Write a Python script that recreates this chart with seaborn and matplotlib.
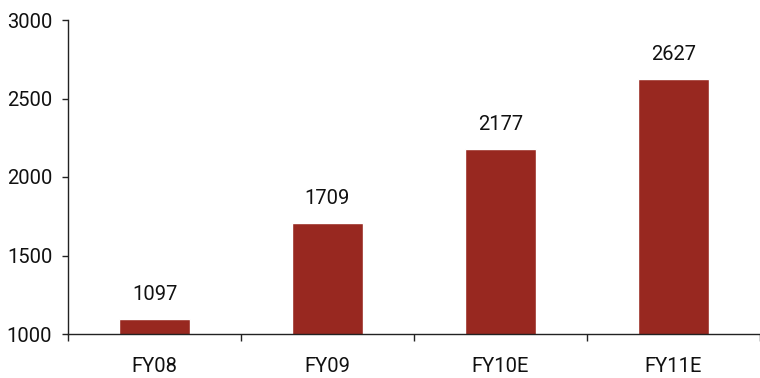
import matplotlib
matplotlib.use("Agg")
import matplotlib.pyplot as plt
from matplotlib import font_manager
import seaborn as sns
import pandas as pd

categories = ["FY08", "FY09", "FY10E", "FY11E"]
values = [1097, 1709, 2177, 2627]
yticks = [1000, 1500, 2000, 2500, 3000]

sns.set_style("white")
names = {f.name for f in font_manager.fontManager.ttflist}
fam = "Liberation Sans Narrow" if "Liberation Sans Narrow" in names else "Roboto"
plt.rcParams["font.family"] = [fam, "DejaVu Sans"]

df = pd.DataFrame({"cat": categories, "val": values})

fig = plt.figure(figsize=(7.6, 3.78), dpi=100)
ax = fig.add_axes([68 / 760, 44 / 378, 692 / 760, 314 / 378])
sns.barplot(data=df, x="cat", y="val", color="#982820", width=0.405,
            saturation=1, ax=ax)

ax.set_ylim(1000, 3000)
ax.set_xlim(-0.5, 3.5 - 4 / 174)
ax.set_yticks(yticks)
ax.set_xlabel("")
ax.set_ylabel("")

for s in ["top", "right"]:
    ax.spines[s].set_visible(False)
for s in ["left", "bottom"]:
    ax.spines[s].set_color("#222222")
    ax.spines[s].set_linewidth(1.0)

ax.tick_params(axis="y", which="major", direction="out", length=4.3, width=1,
               color="#222222", pad=7, labelsize=14.5, labelcolor="#111111",
               left=True)
ax.tick_params(axis="x", which="major", length=0, pad=16.5, labelsize=14.5,
               labelcolor="#111111")
ax.set_xticks([i + 0.5 for i in range(-1, len(categories))], minor=True)
ax.tick_params(axis="x", which="minor", direction="out", length=5, width=1,
               color="#222222", bottom=True)

for i, v in enumerate(values):
    ax.annotate(str(v), xy=(i, v), xytext=(0, 17.5), textcoords="offset points",
                ha="center", va="center", fontsize=14.5, color="#111111")

fig.savefig("out.png", dpi=100)
